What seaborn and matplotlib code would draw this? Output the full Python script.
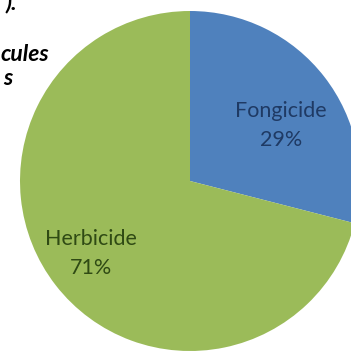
import matplotlib
matplotlib.use("Agg")
import matplotlib.pyplot as plt
import seaborn as sns

categories = ["Fongicide", "Herbicide"]
shares = [29, 71]
colors = ["#4F81BD", "#9BBB59"]
label_colors = ["#1F3A64", "#2F4A14"]

sns.set_theme(style="white")
plt.rcParams["font.family"] = ["Lato", "DejaVu Sans"]

W, H = 351, 354
fig = plt.figure(figsize=(W / 100, H / 100), dpi=100)
ax = fig.add_axes([0, 0, 1, 1])

cx, cy, r = 190, H - 181, 170
ax.pie(shares, colors=colors, startangle=90, counterclock=False,
       center=(cx, cy), radius=r, frame=True,
       wedgeprops=dict(linewidth=0))
ax.set_xlim(0, W)
ax.set_ylim(0, H)
ax.axis("off")

# category name and share, two lines inside each wedge
label_pos = [(281, H - 117), (91, H - 245)]
for name, val, col, (x, y) in zip(categories, shares, label_colors, label_pos):
    ax.text(x, y, name, ha="center", va="baseline", fontsize=15.5, color=col)
    ax.text(x, y - 29, f"{val}%", ha="center", va="baseline", fontsize=15.5, color=col)

# fragments of the caption at the upper left
cap = dict(fontsize=16.5, fontweight="bold", fontstyle="italic", color="black")
ax.text(17, H - 9, ").", ha="right", va="baseline", **cap)
ax.text(49, H - 61, "cules", ha="right", va="baseline", **cap)
ax.text(12, H - 85, "s", ha="right", va="baseline", **cap)

fig.savefig("out.png", dpi=100)
